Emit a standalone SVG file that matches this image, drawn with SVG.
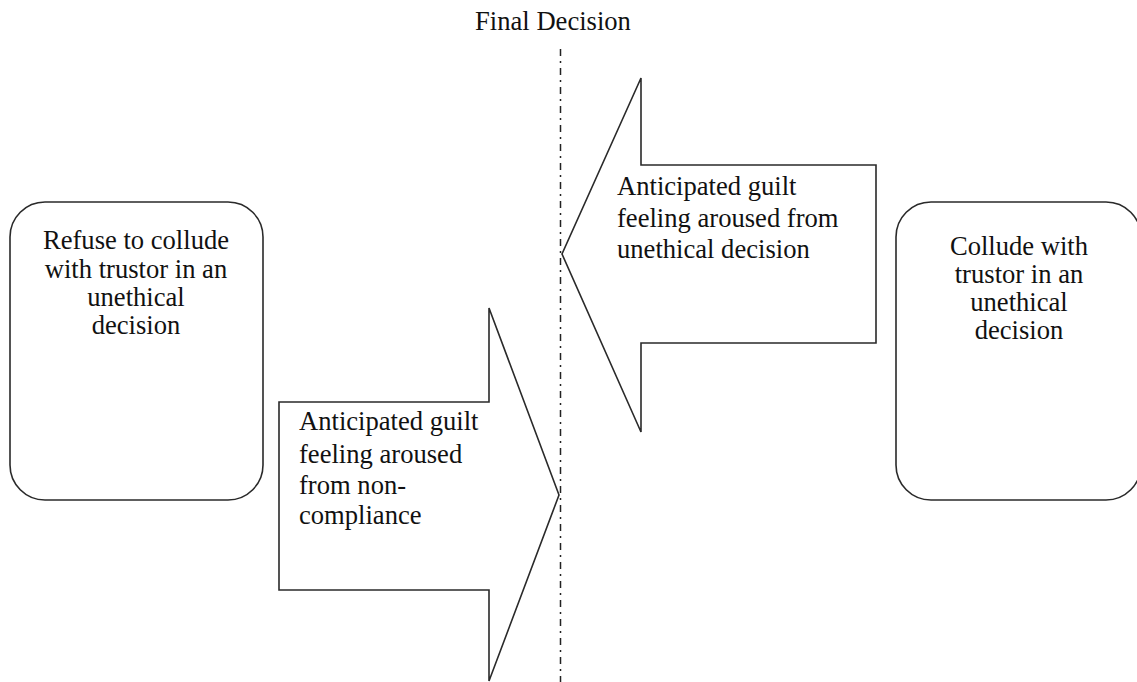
<svg xmlns="http://www.w3.org/2000/svg" width="1137" height="682" viewBox="0 0 1137 682">
<style>
.shape{fill:#fff;stroke:#2a2a2a;stroke-width:1.6;stroke-linejoin:miter}
.t{font-family:"Liberation Serif","Times New Roman",serif;font-size:26.6px;fill:#111}
.c{text-anchor:middle}
.divider{stroke:#222;stroke-width:1.5;stroke-dasharray:7 5 2 5;fill:none}
</style>
<rect width="1137" height="682" fill="#fff"/>
<g id="final-decision-label">
<text class="t c" x="553" y="30">Final Decision</text>
</g>
<g id="connectors">
<line class="divider" x1="560.5" y1="49" x2="560.5" y2="682"/>
</g>
<g id="refuse-node">
<rect class="shape" x="10" y="202" width="253" height="298" rx="35" ry="35"/>
<text class="t c" x="136" y="249">Refuse to collude</text>
<text class="t c" x="136" y="278">with trustor in an</text>
<text class="t c" x="136" y="306">unethical</text>
<text class="t c" x="136" y="334">decision</text>
</g>
<g id="collude-node">
<rect class="shape" x="896" y="202" width="245" height="298" rx="35" ry="35"/>
<text class="t c" x="1019" y="255">Collude with</text>
<text class="t c" x="1019" y="283">trustor in an</text>
<text class="t c" x="1019" y="311">unethical</text>
<text class="t c" x="1019" y="339">decision</text>
</g>
<g id="arrow-unethical">
<polygon class="shape" points="876,165 641,165 641,78 562,254 641,432 641,343 876,343"/>
<text class="t" x="617" y="195">Anticipated guilt</text>
<text class="t" x="617" y="227">feeling aroused from</text>
<text class="t" x="617" y="258">unethical decision</text>
</g>
<g id="arrow-noncompliance">
<polygon class="shape" points="279,402 489,402 489,308 559,495 489,681 489,590 279,590"/>
<text class="t" x="299" y="430">Anticipated guilt</text>
<text class="t" x="299" y="463">feeling aroused</text>
<text class="t" x="299" y="494">from non-</text>
<text class="t" x="299" y="524">compliance</text>
</g>
</svg>
